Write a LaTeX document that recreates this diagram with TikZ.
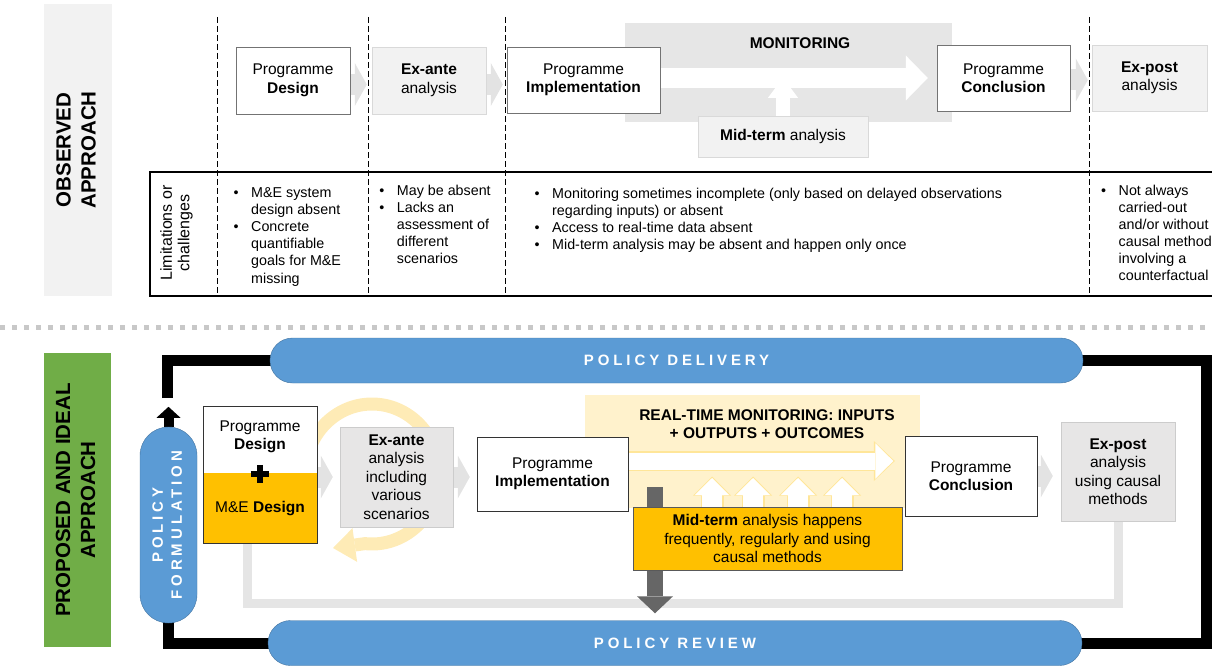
\documentclass[tikz,border=0pt]{standalone}
\usepackage{fontspec}
\setmainfont{Liberation Sans}
\newfontfamily\spacedfont{Liberation Sans}[LetterSpace=26]
\usepackage{graphicx}
\usetikzlibrary{arrows.meta,positioning}
\pgfdeclarelayer{bg}
\pgfdeclarelayer{links}
\pgfsetlayers{bg,links,main}

\definecolor{panelgrey}{HTML}{F2F2F2}
\definecolor{monigrey}{HTML}{E6E6E6}
\definecolor{boxgrey}{HTML}{E7E6E6}
\definecolor{chevgrey}{HTML}{E3E3E3}
\definecolor{retgrey}{HTML}{E5E5E5}
\definecolor{polblue}{HTML}{5B9BD5}
\definecolor{polgreen}{HTML}{70AD47}
\definecolor{meorange}{HTML}{FFC000}
\definecolor{rtmyellow}{HTML}{FFF2CC}
\definecolor{rtmline}{HTML}{FFE699}
\definecolor{ringyellow}{HTML}{FEEBB6}
\definecolor{sepgrey}{HTML}{C8C8C8}
\definecolor{downgrey}{HTML}{666666}

\newcommand{\bulletlist}[1]{\begin{tabular}[t]{@{}l@{\hspace{12.5pt}}l@{}}#1\end{tabular}}

\begin{document}
\begin{tikzpicture}[x=1pt, y=-1pt, font=\fontsize{15.5}{18.5}\selectfont,
  box/.style={draw=black!80, fill=white, align=center, inner sep=0pt},
  topbox/.style={box, draw=black!55},
  lightbox/.style={draw=black!15, fill=panelgrey, align=center, inner sep=0pt},
  greybox/.style={draw=black!20, fill=boxgrey, align=center, inner sep=0pt},
  pill/.style={fill=polblue, draw=polblue!75!black, text=white, align=center, inner sep=0pt, font=\fontsize{15}{19}\selectfont\spacedfont\bfseries},
  heading/.style={inner sep=0pt, font=\fontsize{20.5}{25}\selectfont\bfseries},
  bul/.style={anchor=base west, inner sep=0pt, font=\fontsize{14.3}{17.1}\selectfont},
  chev/.style={draw=chevgrey, line width=21pt, -{Triangle[width=43pt,length=12pt,line width=0pt]}},
  loopline/.style={line width=11pt},
]
\useasboundingbox (0,0) rectangle (1212,666);

\begin{pgfonlayer}{bg}
\node[heading, fill=panelgrey, minimum width=68pt, minimum height=292pt] (obs) at (78,150) {\rotatebox{90}{\begin{tabular}{@{}c@{}}OBSERVED\\APPROACH\end{tabular}}};
\node[heading, fill=polgreen, minimum width=67pt, minimum height=294pt] (prop) at (77.5,500) {\rotatebox{90}{\begin{tabular}{@{}c@{}}PROPOSED AND IDEAL\\APPROACH\end{tabular}}};
\node[fill=monigrey, minimum width=327pt, minimum height=99pt, inner sep=0pt] (moni) at (788.5,72.5) {};
\node[fill=rtmyellow, minimum width=335pt, minimum height=113pt, inner sep=0pt] (rtm) at (752.5,451.5) {};
\end{pgfonlayer}

\draw[sepgrey, line width=5pt, dash pattern=on 5pt off 7pt] (0,327) -- (1212,327);
\draw[line width=1.2pt] (1215,172) -- (150,172) -- (150,296) -- (1215,296);
\foreach \x in {217,368,505,1089}
   \draw[dash pattern=on 6pt off 3pt, line width=0.9pt] (\x,17) -- (\x,296);

\node[inner sep=0pt, font=\fontsize{16}{17.5}\selectfont] (limits) at (177,233) {\rotatebox{90}{\begin{tabular}{@{}c@{}}Limitations or\\challenges\end{tabular}}};

\node[topbox, minimum width=114pt, minimum height=67pt] (pd1) at (293,80.5) {Programme\\\textbf{Design}};
\node[lightbox, minimum width=114pt, minimum height=67pt] (ea1) at (429,80.5) {\textbf{Ex-ante}\\analysis};
\node[topbox, minimum width=153pt, minimum height=66pt] (im1) at (583.5,80) {Programme\\\textbf{Implementation}};
\node[topbox, minimum width=133pt, minimum height=66pt] (co1) at (1003.5,78) {Programme\\\textbf{Conclusion}};
\node[lightbox, minimum width=115pt, minimum height=66pt] (ep1) at (1149.5,78) {\textbf{Ex-post}\\analysis};
\node[lightbox, minimum width=170pt, minimum height=41pt] (midt) at (783,136.5) {\textbf{Mid-term} analysis};
\node[inner sep=0pt, font=\fontsize{15.5}{18.5}\selectfont\bfseries] (monitext) at (800,43) {MONITORING};

\node[bul] (lim1) at (233.5,197.5) {\bulletlist{\textbullet & M\&E system\\ & design absent\\ \textbullet & Concrete\\ & quantifiable\\ & goals for M\&E\\ & missing}};
\node[bul] (lim2) at (379.2,195) {\bulletlist{\textbullet & May be absent\\ \textbullet & Lacks an\\ & assessment of\\ & different\\ & scenarios}};
\node[bul] (lim3) at (534.5,198) {\bulletlist{\textbullet & Monitoring sometimes incomplete (only based on delayed observations\\ & regarding inputs) or absent\\ \textbullet & Access to real-time data absent\\ \textbullet & Mid-term analysis may be absent and happen only once}};
\node[bul] (lim4) at (1101,195) {\bulletlist{\textbullet & Not always\\ & carried-out\\ & and/or without\\ & causal method\\ & involving a\\ & counterfactual}};

\node[pill, minimum width=813pt, minimum height=45pt, rounded corners=22.5pt] (deliv) at (676.5,360.5) {POLICY DELIVERY};
\node[pill, minimum width=814pt, minimum height=45pt, rounded corners=22.5pt] (rev) at (675,643) {POLICY REVIEW};
\node[pill, minimum width=57pt, minimum height=196pt, rounded corners=28.5pt] (form) at (168.5,525) {\rotatebox{90}{\begin{tabular}{@{}c@{}}POLICY\\FORMULATION\end{tabular}}};

\node[box, minimum width=114pt, minimum height=137pt, path picture={\fill[meorange] (path picture bounding box.south west) rectangle ([yshift=70pt]path picture bounding box.south east);}] (pd2) at (260,474.5) {};
\node[inner sep=0pt, align=center] (pd2top) at (260,437) {Programme\\\textbf{Design}};
\node[minimum size=18pt, inner sep=0pt] (plus) at (260,474) {};
\draw[line width=5.5pt] (plus.north) -- (plus.south) (plus.west) -- (plus.east);
\node[inner sep=0pt] (pd2me) at (260,509) {M\&E \textbf{Design}};
\node[greybox, minimum width=113pt, minimum height=100pt] (ea2) at (396.5,477) {\textbf{Ex-ante}\\analysis\\including\\various\\scenarios};
\node[box, minimum width=151pt, minimum height=74pt] (im2) at (552.5,474) {Programme\\\textbf{Implementation}};
\node[box, minimum width=132pt, minimum height=80pt] (co2) at (971,476) {Programme\\\textbf{Conclusion}};
\node[greybox, minimum width=114pt, minimum height=99pt] (ep2) at (1118,471.5) {\textbf{Ex-post}\\analysis\\using causal\\methods};
\node[inner sep=0pt, align=center, font=\fontsize{15.5}{18.5}\selectfont\bfseries] (rtmtext) at (767,424) {REAL-TIME MONITORING: INPUTS\\+ OUTPUTS + OUTCOMES};
\node[box, fill=meorange, draw=black!65, minimum width=269pt, minimum height=63pt] (mid2) at (767.5,538.5) {\textbf{Mid-term} analysis happens\\frequently, regularly and using\\causal methods};

\coordinate (fcorner) at (167,398);
\coordinate (rcorner) at (1206.5,360.5);
\coordinate (dtop) at (655,487);
\coordinate (ringtip) at (333,548);

\begin{pgfonlayer}{links}
\draw[loopline] (fcorner) |- (deliv.center);
\draw[loopline] (deliv.center) -- (rcorner) |- (rev.center);
\draw[loopline] (form.center) |- (rev.center);
\draw[line width=10pt, -{Triangle[width=24pt,length=11pt,line width=0pt]}] (form.north) -- ++(0,-20);

\draw[chev, shorten >=5pt] ([yshift=-4pt]pd1.east) -- ([yshift=-4pt]pd1.east -| ea1.west);
\draw[chev, shorten >=4pt] ([yshift=-4pt]ea1.east) -- ([yshift=-4pt]ea1.east -| im1.west);
\draw[chev, shorten >=4pt] ([yshift=-2pt]co1.east) -- ([yshift=-2pt]co1.east -| ep1.west);
\draw[chev, shorten >=7pt] (pd2.east |- ea2.east) -- (ea2.west);
\draw[chev, shorten >=7pt] (ea2.east) -- (ea2.east -| im2.west);
\draw[chev, shorten >=8pt] (co2.east) -- (co2.east -| ep2.west);

\draw[retgrey, line width=9pt] ([xshift=-13pt]pd2.south) -- ++(0,60) -| (ep2.south);
\draw[ringyellow, line width=13pt, -{Triangle[width=34pt,length=22pt,line width=0pt]}, variable=\t, domain=160:-96, samples=60, smooth] plot ({372+67*cos(\t)}, {474-70*sin(\t)}) -- (ringtip);

\draw[white, line width=20pt, -{Triangle[width=45pt,length=22pt,line width=0pt]}, shorten >=9pt] ([yshift=2pt]im1.east) -- ([yshift=2pt]im1.east -| co1.west);
\draw[white, line width=14pt, -{Triangle[width=30pt,length=20pt,line width=0pt]}] (midt.north) -- ++(0,-38);

\foreach \x in {712,753,798,842} {
   \draw[rtmline, line width=23pt, -{Triangle[width=38pt,length=19pt,line width=0pt]}] (\x,512) -- (\x,476.5);
   \draw[white, line width=20pt, -{Triangle[width=34.5pt,length=17pt,line width=0pt]}] (\x,512) -- (\x,478);
   }
\draw[rtmline, line width=20pt, -{Triangle[width=40pt,length=21pt,line width=0pt]}, shorten >=10pt] ([yshift=13pt]im2.east) -- ([yshift=13pt]im2.east -| co2.west);
\draw[white, line width=17pt, -{Triangle[width=35.5pt,length=18pt,line width=0pt]}, shorten >=11.5pt] ([yshift=13pt]im2.east) -- ([yshift=13pt]im2.east -| co2.west);

\draw[downgrey, line width=16pt, -{Triangle[width=36pt,length=17pt,line width=0pt]}, shorten >=7pt] (dtop) -- (dtop |- rev.north);
\end{pgfonlayer}
\end{tikzpicture}
\end{document}
